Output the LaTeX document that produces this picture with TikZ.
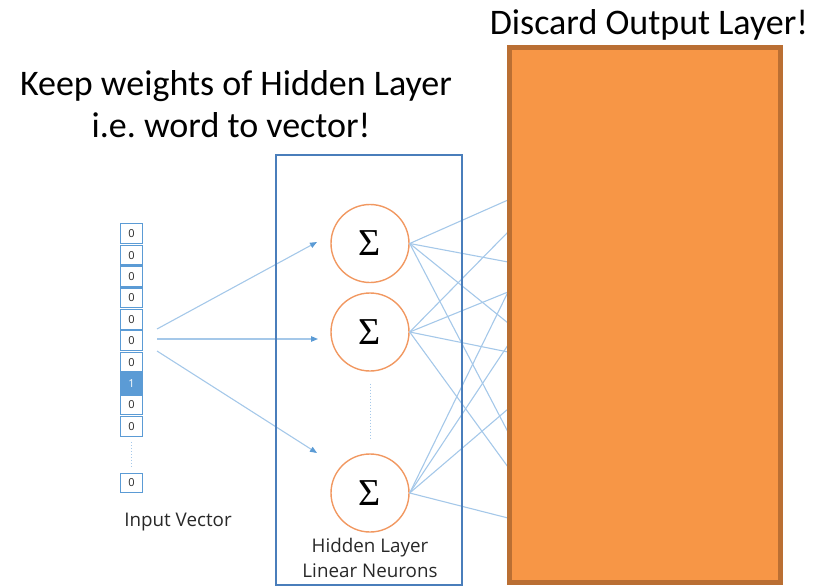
\documentclass[tikz,border=0pt]{standalone}
\usepackage{fontspec}
\setmainfont{Carlito}
\newfontfamily\labelfont{Open Sans}
\newfontfamily\sigmafont{Liberation Serif}
\usetikzlibrary{arrows.meta}
\definecolor{linkblue}{RGB}{165,200,233}
\definecolor{tipblue}{RGB}{91,155,213}
\definecolor{boxblue}{RGB}{74,126,187}
\definecolor{neuron}{RGB}{241,152,97}
\definecolor{outfill}{RGB}{247,150,70}
\definecolor{outedge}{RGB}{186,111,51}
\definecolor{txtgray}{RGB}{40,40,40}
\tikzset{
  cell/.style={draw=tipblue, line width=1.1pt, minimum width=22pt, minimum height=19.8pt, inner sep=0pt, font=\labelfont\fontsize{11}{11}\selectfont, text=txtgray},
  hotcell/.style={cell, fill=tipblue, text=white},
  neuronnode/.style={circle, draw=neuron, line width=1.4pt, minimum size=78pt, inner sep=0pt, font=\sigmafont\fontsize{38}{38}\selectfont},
  link/.style={draw=linkblue, line width=1.1pt},
  inarrow/.style={link, -{Triangle[length=7pt,width=5.5pt,color=tipblue,fill=tipblue]}},
  dotsline/.style={draw=linkblue, line width=1pt, dotted},
  title/.style={anchor=base, font=\fontsize{36}{42}\selectfont, text=black, inner sep=0pt},
  smalllabel/.style={anchor=base, font=\labelfont\fontsize{18.8}{20}\selectfont, text=txtgray, inner sep=0pt}
}
\begin{document}
\begin{tikzpicture}[x=1pt,y=-1pt]
\path[use as bounding box] (0,0) rectangle (824,586);

% input vector
\foreach \i in {0,...,9}{
  \pgfmathsetmacro{\cy}{233.7+21.4*\i}
  \ifnum\i=7
    \node[hotcell] (c\i) at (131.5,\cy) {1};
  \else
    \node[cell] (c\i) at (131.5,\cy) {0};
  \fi
}
\node[cell] (clast) at (131.5,483) {0};
\draw[dotsline, shorten <=5pt, shorten >=4pt] (c9.south) -- (clast.north);
\node[smalllabel] (inlabel) at (178,526) {Input Vector};

% hidden neurons
\node[neuronnode] (h1) at (370,243.5) {Σ};
\node[neuronnode] (h2) at (370,332) {Σ};
\node[neuronnode] (h3) at (370,493) {Σ};
\draw[dotsline, shorten <=12pt, shorten >=14pt] (h2.south) -- (h3.north);

% input arrows
\coordinate (s1) at (157,329);
\coordinate (s2) at (157,339);
\coordinate (s3) at (157,351);
\coordinate (t1) at (317,242);
\coordinate (t2) at (318,339);
\coordinate (t3) at (317,453);
\draw[inarrow] (s1) -- (t1);
\draw[inarrow] (s2) -- (t2);
\draw[inarrow] (s3) -- (t3);

% output connections (ends hidden behind the output layer)
\foreach \n/\y in {oa/200,ob/232,oc/262,od/292,oe/323,of/345,og/352,oh/409,oi/432,oj/467,ok/518}{
  \coordinate (\n) at (508,\y);
}
\foreach \t in {oa,oc,oe,oi}{\draw[link] (h1.east) -- (\t);}
\foreach \t in {ob,od,og,oj}{\draw[link] (h2.east) -- (\t);}
\foreach \t in {od,of,oh,ok}{\draw[link] (h3.east) -- (\t);}

% hidden layer box
\node[draw=boxblue, line width=2pt, minimum width=186pt, minimum height=430pt, inner sep=0pt] (hbox) at (369,370) {};
\node[smalllabel] (hl1) at (370,552) {Hidden Layer};
\node[smalllabel] (hl2) at (370,577) {Linear Neurons};

% discarded output layer
\node[draw=outedge, fill=outfill, line width=5pt, minimum width=271.5pt, minimum height=535pt, inner sep=0pt] (outlayer) at (644.75,315) {};

% titles
\node[title] (disc) at (649,35) {Discard Output Layer!};
\node[title] (keep1) at (236,95) {Keep weights of Hidden Layer};
\node[title] (keep2) at (231,137) {i.e.\ word to vector!};
\end{tikzpicture}
\end{document}
